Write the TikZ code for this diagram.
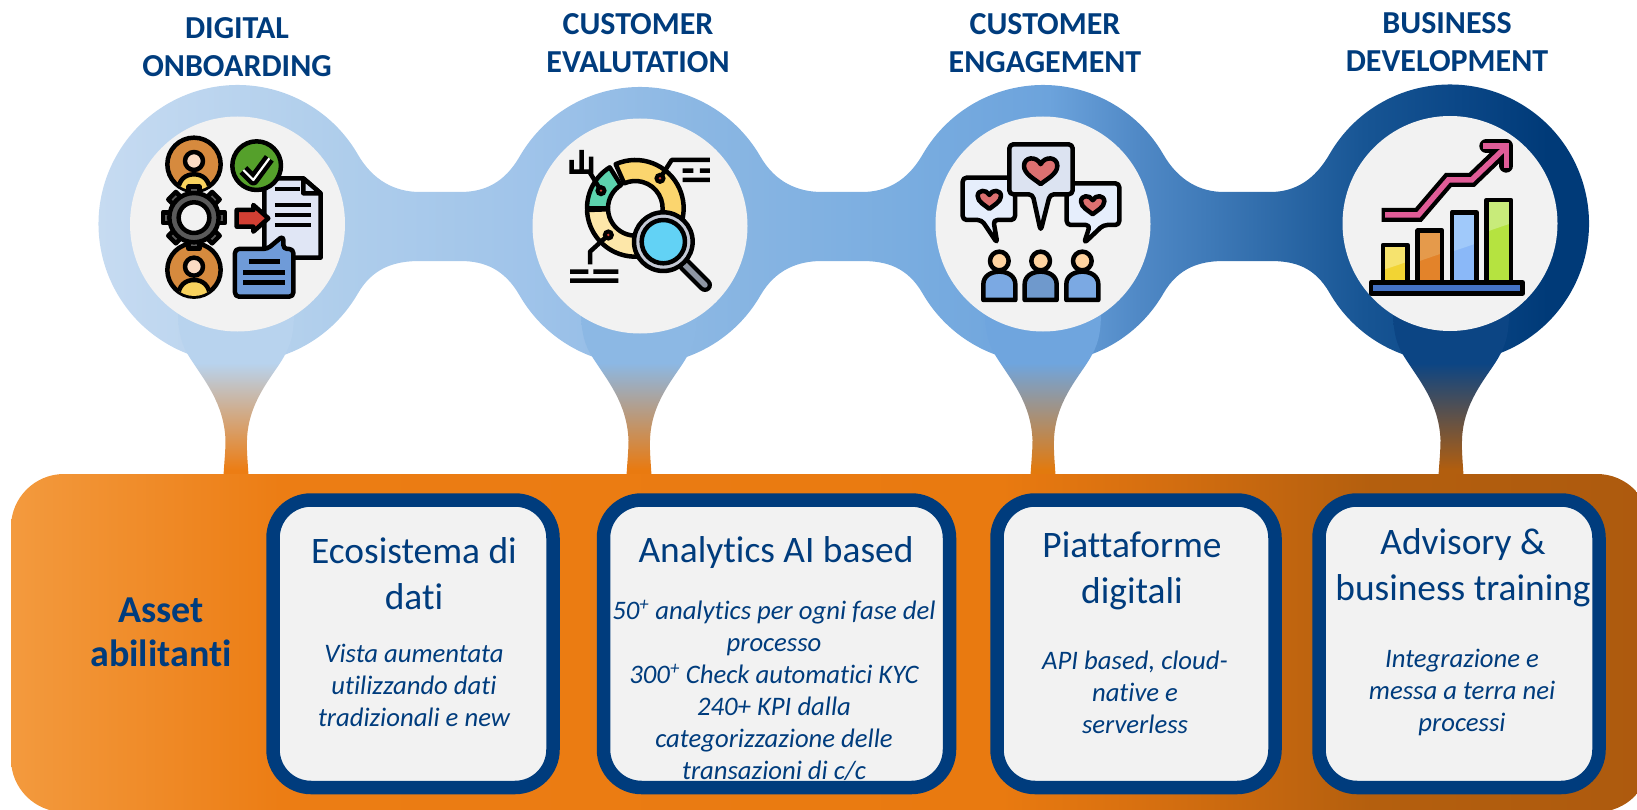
\documentclass[tikz,border=0pt]{standalone}
\usepackage{fontspec}
\setmainfont[Ligatures=NoCommon]{Carlito}
\usetikzlibrary{calc}
\definecolor{navy}{HTML}{003C7D}
\definecolor{panel}{HTML}{F2F2F2}
\definecolor{ra}{HTML}{C8DCF2}\definecolor{rb}{HTML}{AECDEB}\definecolor{rc}{HTML}{A0C4EA}
\definecolor{rd}{HTML}{8BB7E3}\definecolor{re}{HTML}{7AADE0}\definecolor{rf}{HTML}{6CA3DC}
\definecolor{rg}{HTML}{5089C6}\definecolor{rh}{HTML}{3F7AB8}\definecolor{ri}{HTML}{175594}
\definecolor{rj}{HTML}{0A4686}\definecolor{rk}{HTML}{003A78}
\definecolor{ba}{HTML}{F39A3E}\definecolor{bb}{HTML}{EC7D14}\definecolor{bc}{HTML}{E97A10}
\definecolor{bd}{HTML}{D87010}\definecolor{be}{HTML}{B45F0E}\definecolor{bf}{HTML}{AD5A0E}
\definecolor{sa}{HTML}{B8D3EE}\definecolor{sb}{HTML}{8CB8E4}\definecolor{sc}{HTML}{6FA5DE}\definecolor{sd}{HTML}{0C4584}
\definecolor{oa}{HTML}{EC7D14}\definecolor{ob}{HTML}{E97A10}\definecolor{oc}{HTML}{E27A0E}\definecolor{od}{HTML}{B25E0E}
\pgfdeclarehorizontalshading{ringshade}{100bp}{color(0bp)=(ra); color(25bp)=(ra); color(33.8bp)=(rb); color(39.5bp)=(rc); color(45.2bp)=(rd); color(51.9bp)=(re); color(56.7bp)=(rf); color(59.6bp)=(rg); color(61.9bp)=(rh); color(67bp)=(ri); color(70.3bp)=(rj); color(73bp)=(rk); color(100bp)=(rk)}
\pgfdeclarehorizontalshading{bandshade}{100bp}{color(0bp)=(ba); color(25bp)=(ba); color(33.2bp)=(bb); color(55.2bp)=(bc); color(59.4bp)=(bd); color(66.5bp)=(be); color(75bp)=(bf); color(100bp)=(bf)}
\newcommand\stemshade[3]{\pgfdeclareverticalshading{#1}{100bp}{color(0bp)=(#3); color(26.8bp)=(#3); color(59bp)=(#2); color(100bp)=(#2)}}
\stemshade{stema}{sa}{oa}\stemshade{stemb}{sb}{ob}\stemshade{stemc}{sc}{oc}\stemshade{stemd}{sd}{od}
\newcommand\stempath[2]{\begin{scope}[shift={(#1,0)}]
 \path[shading=#2] (-46,358) .. controls (-55,345) and (-58,330) .. (-58,310) -- (58,310) .. controls (58,335) and (55,345) .. (46,360)
 .. controls (35,378) and (12,403) .. (11,440) .. controls (10.5,452) and (12,465) .. (12.5,476) -- (-12.5,476)
 .. controls (-12,465) and (-10.5,452) .. (-10.5,440) .. controls (-12,403) and (-32,380) .. (-46,358) -- cycle;
 \end{scope}}
\newcommand\personbadge[2]{%
 \draw[ic,fill=pbrown] (#1,#2) circle[radius=80];
 \begin{scope}\clip (#1,#2) circle[radius=78];
 \draw[ic,fill=pyellow] (#1-48,#2+85) .. controls (#1-48,#2+45) and (#1-25,#2+30) .. (#1,#2+30) .. controls (#1+25,#2+30) and (#1+48,#2+45) .. (#1+48,#2+85) -- cycle;
 \end{scope}
 \draw[ic,fill=pskin] (#1,#2-10) circle[radius=27];}
\newcommand\lovemark[3]{\draw[ic,fill=heartc] (#1,#2+.85*#3) .. controls (#1-.35*#3,#2+.55*#3) and (#1-#3,#2+.25*#3) .. (#1-#3,#2-.25*#3) .. controls (#1-#3,#2-.8*#3) and (#1-.25*#3,#2-.85*#3) .. (#1,#2-.35*#3) .. controls (#1+.25*#3,#2-.85*#3) and (#1+#3,#2-.8*#3) .. (#1+#3,#2-.25*#3) .. controls (#1+#3,#2+.25*#3) and (#1+.35*#3,#2+.55*#3) .. cycle;}
\newcommand\viewer[3]{%
 \draw[ic,fill=#3] (#1-48,#2+117) -- (#1-48,#2+70) .. controls (#1-48,#2+45) and (#1-25,#2+32) .. (#1,#2+32) .. controls (#1+25,#2+32) and (#1+48,#2+45) .. (#1+48,#2+70) -- (#1+48,#2+117) -- cycle;
 \draw[ic,fill=pface] (#1,#2) circle[radius=28];}
\newcommand\barbox[6]{% x1 x2 top fill light lightend
 \fill[#4] (#1,#3) rectangle (#2,470);
 \fill[#5] (#1,#3) -- (#2,#3) -- (#2,#6-15) -- (#1,#6+10) -- cycle;
 \draw[ic] (#1,470) -- (#1,#3) -- (#2,#3) -- (#2,470);}
\definecolor{pbrown}{HTML}{D68A3E}\definecolor{pyellow}{HTML}{F8D25E}\definecolor{pskin}{HTML}{FBDCC4}
\definecolor{gearc}{HTML}{5A5A5A}\definecolor{greenc}{HTML}{55A02B}\definecolor{docc}{HTML}{E0E6F5}
\definecolor{redc}{HTML}{D23F33}\definecolor{bubc}{HTML}{6F9BD8}
\definecolor{tealc}{HTML}{5CD3AE}\definecolor{goldc}{HTML}{FBD56E}\definecolor{paleg}{HTML}{FDE7A9}
\definecolor{lensc}{HTML}{62D2F5}\definecolor{ringg}{HTML}{C5CAD6}\definecolor{handc}{HTML}{8F96A3}
\definecolor{heartc}{HTML}{DD7070}\definecolor{bub1}{HTML}{DCE3F1}\definecolor{bub2}{HTML}{E6EEFC}
\definecolor{pface}{HTML}{FFD3A0}\definecolor{pa}{HTML}{7BA9E3}\definecolor{pb}{HTML}{6F99CC}
\definecolor{pinkc}{HTML}{E05C97}\definecolor{basec}{HTML}{4472C4}
\definecolor{ya}{HTML}{F2D433}\definecolor{yb}{HTML}{F6E36E}\definecolor{oca}{HTML}{E3832A}\definecolor{ocb}{HTML}{E59A4B}
\definecolor{bla}{HTML}{8AB8F8}\definecolor{blb}{HTML}{A0C9FA}\definecolor{gra}{HTML}{B5E340}\definecolor{grb}{HTML}{C8EB7A}
\begin{document}
\begin{tikzpicture}[x=1pt,y=-1pt,
 ic/.style={draw=black,line width=4.5pt,line join=round},
 ttl/.style={text=navy,font=\fontsize{32}{38}\selectfont\bfseries,align=center,inner sep=0pt},
 cardbox/.style={draw=navy,fill=panel,line width=13.5pt,rounded corners=38pt,inner sep=0pt,minimum height=287.5pt},
 cardttl/.style={text=navy,font=\fontsize{37.4}{46}\selectfont,align=center,inner sep=0pt},
 cardtxt/.style={text=navy,font=\fontsize{26.7}{32}\selectfont\itshape,align=center,inner sep=0pt},
 inner/.style={fill=panel,circle,minimum size=215pt,inner sep=0pt,outer sep=0pt}]
\path[use as bounding box] (0,0) rectangle (1637,810);
\begin{scope}
\clip (0,0) rectangle (1637,810);
\coordinate (C1) at (237.5,224);\coordinate (C2) at (640,226);\coordinate (C3) at (1043,224);\coordinate (C4) at (1450,223.5);
% ring chain
\path[shading=ringshade]
 ([shift={(30:139)}]C1) arc[start angle=30,end angle=330,radius=139]
 .. controls +(15,26) and (395,192) .. (420,192) -- (460,192) .. controls (485,192) and +(-15,26) .. ([shift={(210:139)}]C2)
 arc[start angle=210,end angle=330,radius=139]
 .. controls +(15,26) and (798,192) .. (822,192) -- (862,192) .. controls (887,192) and +(-15,26) .. ([shift={(210:139)}]C3)
 arc[start angle=210,end angle=330,radius=139]
 .. controls +(15,26) and (1200,192) .. (1224,192) -- (1270,192) .. controls (1295,192) and +(-15,26) .. ([shift={(210:139)}]C4)
 arc[start angle=210,end angle=510,radius=139]
 .. controls +(-15,-26) and (1295,261) .. (1270,261) -- (1224,261) .. controls (1200,261) and +(15,-26) .. ([shift={(30:139)}]C3)
 arc[start angle=30,end angle=150,radius=139]
 .. controls +(-15,-26) and (887,261) .. (862,261) -- (822,261) .. controls (798,261) and +(15,-26) .. ([shift={(30:139)}]C2)
 arc[start angle=30,end angle=150,radius=139]
 .. controls +(-15,-26) and (485,261) .. (460,261) -- (420,261) .. controls (395,261) and +(15,-26) .. ([shift={(30:139)}]C1) -- cycle;
\stempath{236}{stema}\stempath{639}{stemb}\stempath{1043}{stemc}\stempath{1451}{stemd}
\node[inner] (disc1) at (C1) {};\node[inner] (disc2) at (C2) {};\node[inner] (disc3) at (C3) {};\node[inner] (disc4) at (C4) {};
% band
\path[shading=bandshade,rounded corners=53pt] (11,474) rectangle (1650,812);
\end{scope}
% ---- icon 1
\begin{scope}[shift={(130,125)},x=.3333pt,y=-.3333pt]
 \personbadge{192}{118}\personbadge{192}{435}
 \foreach \a in {0,45,...,315}{\draw[ic,fill=gearc,rotate around={\a:(192,278)}] (176,185) rectangle (208,215);}
 \draw[ic,fill=gearc] (192,278) circle[radius=74];
 \draw[ic,fill=panel] (192,278) circle[radius=46];
 \draw[ic,fill=docc] (403,160) -- (520,160) -- (572,205) -- (572,398) -- (403,398) -- cycle;
 \draw[ic,fill=bub1] (520,160) -- (520,205) -- (572,205) -- cycle;
 \draw[ic] (435,192) -- (510,192) (435,240) -- (543,240) (435,270) -- (543,270) (435,300) -- (543,300);
 \draw[ic,fill=greenc] (380,122) circle[radius=73];
 \draw[black,line width=11pt,line join=round] (340,135) -- (370,165) -- (418,100);
 \draw[white,line width=2.2pt,line join=round] (340,135) -- (370,165) -- (418,100);
 \draw[ic,fill=redc] (320,255) -- (370,255) -- (370,240) -- (415,280) -- (370,320) -- (370,305) -- (320,305) -- cycle;
 \draw[ic,fill=bubc,rounded corners=4pt] (315,372) -- (412,372) -- (460,332) -- (460,372) -- (490,372) -- (490,515) -- (315,515) -- cycle;
 \draw[ic] (357,410) -- (450,410) (340,443) -- (465,443) (340,473) -- (465,473);
\end{scope}
% ---- icon 2
\begin{scope}[shift={(530,125)},x=.3333pt,y=-.3333pt]
 \coordinate (dn) at (316,250);
 \draw[ic,fill=tealc] ([shift={(180:145)}]dn) arc[start angle=180,end angle=238,radius=145] -- ([shift={(238:82)}]dn) arc[start angle=238,end angle=180,radius=82] -- cycle;
 \draw[ic,fill=goldc] ([shift={(246:145)}]dn) arc[start angle=246,end angle=375,radius=145] -- ([shift={(15:82)}]dn) arc[start angle=375,end angle=246,radius=82] -- cycle;
 \draw[ic,fill=paleg] ([shift={(178:145)}]dn) arc[start angle=178,end angle=85,radius=145] -- ([shift={(85:82)}]dn) arc[start angle=85,end angle=178,radius=82] -- cycle;
 \draw[ic,line join=miter] (125,105) -- (125,140) -- (183,140) -- (183,95) (155,75) -- (155,140) (178,140) -- (213,197);
 \draw[ic] (390,160) -- (425,105) -- (540,105) (458,137) -- (490,137) (510,137) -- (540,137) (458,165) -- (540,165);
 \draw[ic] (235,330) -- (180,380) -- (180,418) (120,440) -- (175,440) (190,440) -- (265,440) (120,467) -- (265,467);
 \foreach \p in {(213,197),(390,160),(235,330)}{\fill[black] \p circle[radius=17];\fill[redc] \p circle[radius=4];}
 \draw[black,line width=14pt,line cap=round] (465,420) -- (525,480);
 \draw[handc,line width=5.5pt,line cap=round] (465,420) -- (525,480);
 \draw[ic,fill=ringg] (400,350) circle[radius=88];
 \draw[ic,fill=lensc] (400,350) circle[radius=65];
\end{scope}
% ---- icon 3
\begin{scope}[shift={(940,125)},x=.3333pt,y=-.3333pt]
 \draw[ic,fill=bub2,rounded corners=4pt] (68,158) -- (225,158) -- (225,285) -- (160,285) -- (172,355) -- (125,285) -- (68,285) -- cycle;
 \draw[ic,fill=bub2,rounded corners=4pt] (380,175) -- (538,175) -- (538,300) -- (490,300) -- (432,355) -- (450,300) -- (380,300) -- cycle;
 \draw[ic,fill=bub1,rounded corners=4pt] (208,58) -- (398,58) -- (398,208) -- (330,208) -- (302,318) -- (278,208) -- (208,208) -- cycle;
 \lovemark{302}{135}{50}\lovemark{148}{222}{35}\lovemark{458}{238}{35}
 \viewer{178}{408}{pa}\viewer{302}{408}{pb}\viewer{427}{408}{pa}
\end{scope}
% ---- icon 4
\begin{scope}[shift={(1350,125)},x=.3333pt,y=-.3333pt]
 \barbox{99}{173}{360}{ya}{yb}{425}
 \barbox{203}{276}{317}{oca}{ocb}{400}
 \barbox{306}{380}{262}{bla}{blb}{370}
 \barbox{410}{483}{225}{gra}{grb}{310}
 \draw[ic,fill=basec] (63,472) rectangle (518,505);
 \draw[black,line width=14pt,miter limit=4] (95,270) -- (205,270) -- (295,165) -- (365,165) -- (462,72);
 \draw[black,line width=14pt,line join=round,line cap=round] (409,63) -- (469,63) -- (469,122);
 \draw[pinkc,line width=5.5pt] (105,270) -- (205,270) -- (295,165) -- (365,165) -- (462,72);
 \draw[pinkc,line width=5.5pt,line join=miter] (400,63) -- (469,63) -- (469,130);
\end{scope}
% titles
\node[ttl] (t1) at (237,47.5) {DIGITAL\\ONBOARDING};
\node[ttl] (t2) at (638,43.5) {CUSTOMER\\EVALUTATION};
\node[ttl] (t3) at (1045,43) {CUSTOMER\\ENGAGEMENT};
\node[ttl] (t4) at (1447,42) {BUSINESS\\DEVELOPMENT};
% asset
\node[text=navy,font=\fontsize{38}{44}\selectfont\bfseries,align=center,inner sep=0pt] (asset) at (161,632) {Asset\\abilitanti};
% cards
\node[cardbox,minimum width=280pt] (card1) at (413,643.75) {};
\node[cardbox,minimum width=346pt] (card2) at (776.5,643.75) {};
\node[cardbox,minimum width=278pt] (card3) at (1136,643.75) {};
\node[cardbox,minimum width=280pt] (card4) at (1459,643.75) {};
\node[cardttl] (h1) at (414,574) {Ecosistema di\\dati};
\node[cardttl] (h2) at (776,553) {Analytics AI based};
\node[cardttl] (h3) at (1132,570.5) {Piattaforme\\digitali};
\node[cardttl] (h4) at (1463,568) {Advisory \&\\business training};
\node[cardtxt] (b1) at (414,685) {Vista aumentata\\utilizzando dati\\tradizionali e new};
\node[cardtxt] (b2) at (774,690) {50\textsuperscript{+} analytics per ogni fase del\\processo\\300\textsuperscript{+} Check automatici KYC\\240+ KPI dalla\\categorizzazione delle\\transazioni di c/c};
\node[cardtxt] (b3) at (1135,692) {API based, cloud-\\native e\\serverless};
\node[cardtxt] (b4) at (1462,692) {Integrazione e\\messa a terra nei\\processi};
\end{tikzpicture}
\end{document}
